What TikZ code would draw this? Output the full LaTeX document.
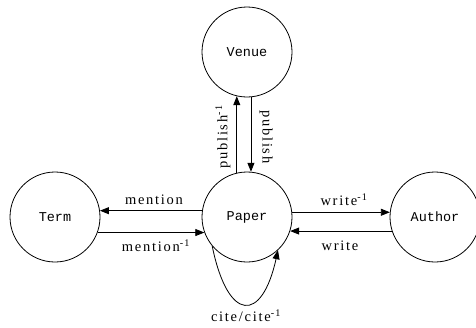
\documentclass[tikz,border=0pt]{standalone}
\usepackage{fontspec}
\setmainfont{Liberation Serif}
\newfontfamily\statefont{Liberation Mono}
\newfontfamily\labelfont[LetterSpace=12]{Liberation Serif}
\usetikzlibrary{arrows.meta}
\begin{document}
\begin{tikzpicture}[x=1pt,y=-1pt,
  state/.style={circle,draw,line width=0.8pt,minimum size=90pt,inner sep=0pt,
    font=\statefont\fontsize{13.5}{15}\selectfont},
  edge/.style={draw,line width=0.8pt,-{Triangle[length=9pt,width=7pt]}},
  lbl/.style={font=\labelfont\fontsize{14.5}{16}\selectfont,inner sep=0pt}]
\useasboundingbox (0,0) rectangle (476,327);
\node[state] (venue) at (247,52) {Venue};
\node[state] (paper) at (247,217) {Paper};
\node[state] (term) at (55,217) {Term};
\node[state] (author) at (435,217) {Author};
% term <-> paper
\draw[edge] (paper.172) -- (term.8);
\draw[edge] (term.-20) -- (paper.200);
% paper <-> author
\draw[edge] (paper.6) -- (author.174);
\draw[edge] (author.-162) -- (paper.-18);
% venue <-> paper
\draw[edge] (paper.103) -- (venue.257);
\draw[edge] (venue.275) -- (paper.85);
% self loop
\draw[edge] (paper.220) .. controls (228,323) and (262,323) .. (paper.313);
% labels
\node[lbl] (lmen) at (154,200) {mention};
\node[lbl] (lmeninv) at (156,246) {mention\textsuperscript{-1}};
\node[lbl] (lwinv) at (344,200) {write\textsuperscript{-1}};
\node[lbl] (lw) at (340,246) {write};
\node[lbl,rotate=90] (lpinv) at (223,137) {publish\textsuperscript{-1}};
\node[lbl,rotate=-90] (lp) at (266,137) {publish};
\node[lbl] (lcite) at (246,316) {cite/cite\textsuperscript{-1}};
\end{tikzpicture}
\end{document}
